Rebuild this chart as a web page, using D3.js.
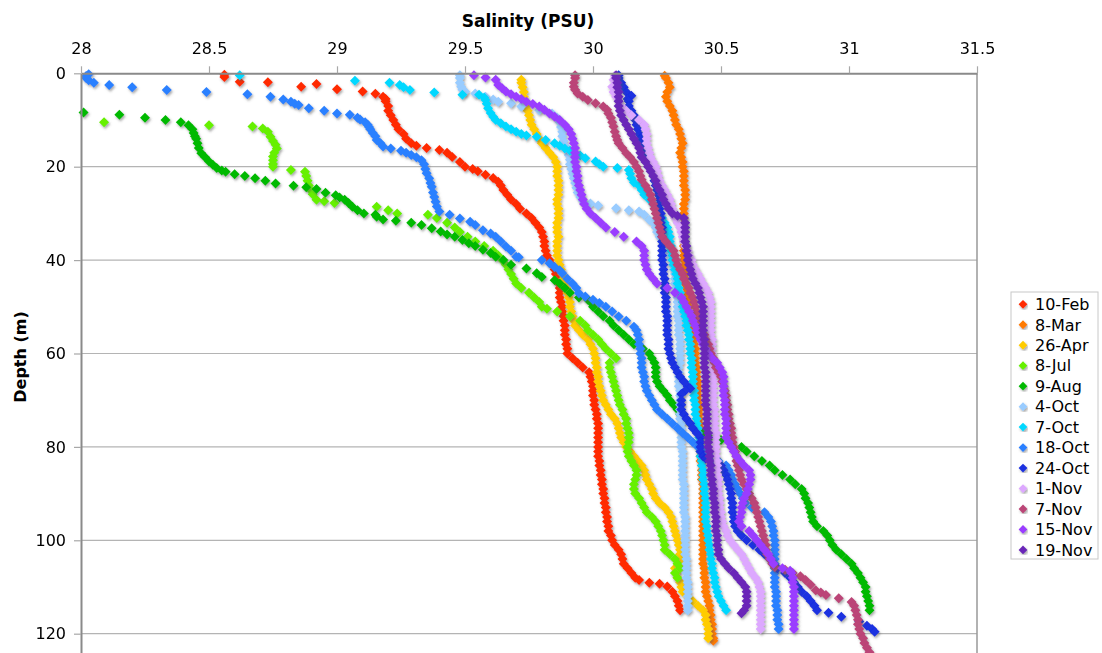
<!DOCTYPE html>
<html>
<head>
<meta charset="utf-8">
<script src="https://cdn.jsdelivr.net/npm/d3@7"></script>
<style>
  body { margin: 0; background: #fff; }
  svg { display: block; }
  text { font-family: "DejaVu Sans", Verdana, sans-serif; }
</style>
</head>
<body>
<svg id="chart" width="1102" height="653"></svg>
<script>
// CTD salinity profiles: each entry is [depth (m), salinity (PSU)]
const feb10 = [[0.3,28.56],[0.8,28.56],[1.8,28.62],[1.9,28.73],[2.3,28.92],[2.9,28.86],[3.4,29.00],[3.9,29.10],[4.4,29.15],[5,29.18],[5.5,29.19],[6,29.19],[7,29.20],[8,29.20],[9,29.21],[10,29.22],[11,29.23],[12,29.24],[13,29.26],[14,29.27],[15,29.29],[15.5,29.31],[16,29.35],[16.4,29.40],[17,29.43],[17.9,29.45],[19,29.48],[20,29.50],[20.5,29.53],[21,29.55],[21.7,29.58],[22.4,29.61],[23.2,29.63],[24,29.64],[25,29.65],[26,29.665],[27,29.68],[28,29.70],[29,29.715],[30,29.74],[31,29.76],[32,29.775],[33,29.79],[34,29.80],[35,29.805],[36,29.81],[37,29.81],[38,29.815],[39,29.82],[40,29.83],[41,29.84],[42,29.85],[43,29.855],[44,29.86],[45,29.865],[46,29.87],[47,29.87],[48,29.87],[49,29.875],[50,29.88],[51,29.88],[52,29.885],[53,29.885],[54,29.89],[55,29.89],[56,29.89],[57,29.895],[58,29.895],[59,29.90],[60,29.90],[61,29.92],[62,29.94],[63,29.96],[64,29.985],[65,29.99],[66,29.995],[67,30.00],[68,30.00],[69,30.00],[70,30.005],[71,30.005],[72,30.01],[73,30.015],[74,30.015],[75,30.02],[76,30.02],[77,30.02],[78,30.02],[79,30.02],[80,30.02],[81,30.02],[82,30.02],[83,30.025],[84,30.025],[85,30.03],[86,30.03],[87,30.035],[88,30.035],[89,30.04],[90,30.04],[91,30.045],[92,30.045],[93,30.05],[94,30.05],[95,30.055],[96,30.055],[97,30.06],[98,30.06],[99,30.07],[100,30.075],[101,30.085],[102,30.10],[103,30.11],[104,30.115],[105,30.12],[106,30.135],[107,30.15],[108,30.165],[108.5,30.18],[109.1,30.22],[109.3,30.26],[109.9,30.29],[111,30.31],[112,30.32],[113,30.33],[114,30.335],[115,30.34]];

const mar8 = [[0.5,30.28],[1,30.285],[2,30.295],[3,30.30],[4,30.29],[5,30.285],[6,30.29],[7,30.30],[8,30.31],[9,30.315],[10,30.32],[11,30.325],[12,30.335],[13,30.34],[14,30.345],[15,30.35],[16,30.345],[17,30.34],[18,30.345],[19,30.35],[20,30.35],[21,30.355],[22,30.355],[23,30.355],[24,30.355],[25,30.36],[26,30.36],[27,30.36],[28,30.355],[29,30.355],[30,30.355],[31,30.355],[32,30.355],[33,30.355],[34,30.355],[35,30.355],[36,30.355],[37,30.355],[38,30.355],[39,30.355],[40,30.355],[41,30.36],[42,30.36],[43,30.36],[44,30.36],[45,30.36],[46,30.365],[47,30.365],[48,30.37],[49,30.37],[50,30.375],[51,30.375],[52,30.38],[53,30.385],[54,30.385],[55,30.39],[56,30.39],[57,30.395],[58,30.395],[59,30.40],[60,30.40],[61,30.40],[62,30.40],[63,30.405],[64,30.405],[65,30.405],[66,30.41],[67,30.41],[68,30.41],[69,30.41],[70,30.41],[71,30.415],[72,30.415],[73,30.415],[74,30.415],[75,30.415],[76,30.42],[77,30.42],[78,30.42],[79,30.42],[80,30.42],[81,30.42],[82,30.42],[83,30.42],[84,30.425],[85,30.425],[86,30.425],[87,30.425],[88,30.43],[89,30.43],[90,30.43],[91,30.43],[92,30.43],[93,30.43],[94,30.43],[95,30.43],[96,30.43],[97,30.43],[98,30.43],[99,30.43],[100,30.43],[101,30.43],[102,30.43],[103,30.43],[104,30.43],[105,30.43],[106,30.435],[107,30.435],[108,30.435],[109,30.44],[110,30.44],[111,30.44],[112,30.445],[113,30.45],[114,30.455],[115,30.455],[116,30.46],[117,30.46],[118,30.465],[119,30.465],[120,30.465],[121,30.47],[121.5,30.47]];

const apr26 = [[1.4,29.72],[2,29.72],[3,29.725],[4,29.73],[5,29.73],[6,29.735],[7,29.74],[8,29.745],[9,29.75],[10,29.755],[11,29.76],[12,29.77],[13,29.78],[14,29.79],[15,29.80],[16,29.815],[17,29.83],[18,29.845],[19,29.855],[20,29.86],[21,29.86],[22,29.86],[23,29.865],[24,29.865],[25,29.865],[26,29.865],[27,29.86],[28,29.86],[29,29.865],[30,29.865],[31,29.865],[32,29.86],[33,29.86],[34,29.86],[35,29.865],[36,29.86],[37,29.86],[38,29.86],[39,29.86],[40,29.865],[41,29.87],[42,29.875],[43,29.88],[44,29.885],[45,29.89],[46,29.895],[47,29.90],[48,29.905],[49,29.91],[50,29.91],[51,29.915],[52,29.92],[53,29.925],[54,29.93],[55,29.945],[56,29.96],[57,29.98],[58,29.99],[59,30.00],[60,30.005],[61,30.01],[62,30.01],[63,30.015],[64,30.015],[65,30.02],[66,30.02],[67,30.025],[68,30.03],[69,30.035],[70,30.04],[71,30.05],[72,30.06],[73,30.07],[74,30.085],[75,30.095],[76,30.10],[77,30.105],[78,30.11],[79,30.12],[80,30.13],[81,30.145],[82,30.16],[83,30.175],[84,30.19],[85,30.20],[86,30.205],[87,30.21],[88,30.22],[89,30.23],[90,30.235],[91,30.245],[92,30.26],[93,30.28],[94,30.295],[95,30.305],[96,30.31],[97,30.315],[98,30.32],[99,30.325],[100,30.33],[101,30.335],[102,30.34],[103,30.34],[104,30.34],[105,30.34],[106,30.32],[107,30.325],[108,30.33],[109,30.34],[110,30.345],[111,30.35],[112,30.37],[113,30.39],[114,30.41],[115,30.43],[116,30.44],[117,30.44],[118,30.445],[119,30.45],[120,30.45],[121,30.45]];

const jul8 = [[10.5,28.09],[11.1,28.50],[11.4,28.67],[11.8,28.71],[12.5,28.73],[13.6,28.74],[14.5,28.75],[15.3,28.76],[16.1,28.765],[17,28.755],[17.8,28.75],[18.6,28.75],[19.4,28.75],[20,28.75],[20.7,28.82],[21.1,28.875],[22,28.88],[23,28.885],[24,28.89],[24.9,28.895],[25.9,28.905],[27.1,28.92],[27.4,28.95],[27.8,28.99],[28.6,29.155],[29.3,29.20],[30,29.235],[30.3,29.355],[31,29.39],[32,29.43],[33,29.46],[34,29.48],[35,29.51],[36,29.54],[37,29.575],[38,29.61],[39,29.63],[40,29.645],[41,29.66],[42,29.67],[43,29.68],[44,29.69],[45,29.70],[46,29.72],[47,29.75],[48,29.77],[49,29.79],[50,29.80],[50.4,29.82],[51,29.86],[52,29.91],[53,29.95],[54,29.97],[55,29.98],[56,30.00],[57,30.02],[58,30.035],[59,30.05],[60,30.07],[61,30.09],[62,30.065],[63,30.065],[64,30.07],[65,30.075],[66,30.08],[67,30.085],[68,30.09],[69,30.095],[70,30.10],[71,30.105],[72,30.115],[73,30.12],[74,30.13],[75,30.13],[76,30.135],[77,30.14],[78,30.14],[79,30.14],[80,30.135],[81,30.135],[82,30.14],[83,30.15],[84,30.16],[85,30.17],[86,30.17],[87,30.165],[88,30.16],[89,30.16],[90,30.165],[91,30.18],[92,30.19],[93,30.20],[94,30.21],[95,30.23],[96,30.245],[97,30.255],[98,30.265],[99,30.27],[100,30.275],[101,30.28],[102,30.28],[103,30.30],[104,30.32],[105,30.33],[106,30.34],[107,30.32],[108,30.33]];

const aug9 = [[8.4,28.01],[8.9,28.15],[9.5,28.25],[10,28.33],[10.5,28.39],[11.1,28.42],[12,28.435],[12.8,28.44],[13.5,28.445],[14,28.45],[15,28.455],[16,28.46],[17.1,28.47],[18,28.485],[18.9,28.50],[19.6,28.515],[20.3,28.53],[20.8,28.55],[21.1,28.565],[21.6,28.60],[22,28.64],[22.5,28.68],[23,28.72],[23.6,28.76],[24.1,28.83],[24.4,28.88],[24.8,28.92],[25.6,28.955],[26.1,28.995],[26.6,29.01],[27.1,29.03],[27.8,29.045],[28.6,29.06],[29.3,29.08],[30,29.105],[30.3,29.15],[30.7,29.155],[31.3,29.18],[31.6,29.23],[32,29.29],[32.5,29.33],[33.2,29.37],[33.9,29.405],[34.5,29.43],[35,29.46],[35.7,29.49],[36.4,29.515],[37,29.54],[37.8,29.57],[38.5,29.60],[39.3,29.62],[40,29.65],[41,29.68],[41.8,29.74],[42.8,29.78],[43.6,29.80],[44.3,29.85],[45,29.87],[46,29.89],[47,29.91],[48,29.945],[48.5,29.98],[49,29.99],[50,30.00],[51,30.02],[52,30.04],[53,30.065],[54,30.08],[55,30.10],[56,30.12],[57,30.14],[58,30.16],[59,30.195],[60,30.22],[61,30.23],[62,30.24],[63,30.245],[64,30.245],[65,30.245],[66,30.25],[67,30.26],[68,30.275],[69,30.29],[70,30.30],[71,30.315],[72,30.33],[73,30.34],[74,30.36],[75,30.38],[76,30.40],[77,30.43],[78,30.455],[78.5,30.50],[79,30.54],[80,30.58],[81,30.60],[82,30.63],[83,30.66],[84,30.69],[85,30.71],[86,30.74],[87,30.77],[88,30.79],[89,30.815],[90,30.825],[91,30.83],[92,30.84],[93,30.845],[94,30.85],[95,30.855],[96,30.86],[97,30.875],[98,30.90],[99,30.915],[100,30.925],[101,30.935],[102,30.95],[103,30.97],[104,30.99],[105,31.01],[106,31.02],[107,31.035],[108,31.045],[109,31.055],[110,31.065],[111,31.065],[112,31.07],[113,31.075],[114,31.08],[115,31.08]];

const oct4 = [[0.4,29.48],[1,29.48],[2,29.48],[2.9,29.485],[3.5,29.49],[3.9,29.50],[4.3,29.54],[5,29.58],[5.6,29.61],[6.1,29.63],[6.4,29.68],[7.1,29.72],[7.9,29.79],[8.6,29.84],[9.5,29.86],[10.5,29.87],[11.5,29.875],[12.5,29.88],[13.5,29.88],[14.5,29.885],[15.5,29.89],[16.5,29.90],[17.5,29.905],[18.5,29.91],[19.5,29.91],[20.5,29.915],[21.5,29.92],[22.5,29.925],[23.5,29.93],[24.5,29.935],[25.5,29.94],[26.5,29.95],[27.3,29.96],[27.9,29.99],[28.3,30.02],[28.9,30.09],[29.3,30.14],[29.6,30.18],[30.3,30.20],[31.4,30.22],[32,30.235],[33,30.245],[34,30.25],[35,30.26],[36,30.27],[37,30.28],[38,30.29],[39,30.30],[40,30.305],[41,30.31],[42,30.315],[43,30.32],[44,30.32],[45,30.32],[46,30.325],[47,30.325],[48,30.33],[49,30.33],[50,30.33],[51,30.33],[52,30.33],[53,30.335],[54,30.335],[55,30.335],[56,30.335],[57,30.34],[58,30.34],[59,30.34],[60,30.34],[61,30.34],[62,30.34],[63,30.335],[64,30.335],[65,30.335],[66,30.335],[67,30.335],[68,30.34],[69,30.34],[70,30.34],[71,30.34],[72,30.34],[73,30.34],[74,30.34],[75,30.345],[76,30.345],[77,30.345],[78,30.345],[79,30.345],[80,30.345],[81,30.35],[82,30.35],[83,30.35],[84,30.35],[85,30.35],[86,30.35],[87,30.35],[88,30.355],[89,30.355],[90,30.355],[91,30.355],[92,30.355],[93,30.355],[94,30.355],[95,30.36],[96,30.36],[97,30.36],[98,30.36],[99,30.36],[100,30.36],[101,30.36],[102,30.36],[103,30.36],[104,30.365],[105,30.365],[106,30.365],[107,30.365],[108,30.365],[109,30.37],[110,30.37],[111,30.37],[112,30.37],[113,30.37],[114,30.37],[115,30.37]];

const oct7 = [[0.4,28.62],[1.6,29.07],[2,29.205],[2.5,29.245],[3,29.26],[3.6,29.285],[4.1,29.38],[4.6,29.49],[4.6,29.555],[5.2,29.575],[5.7,29.58],[6.5,29.585],[7.5,29.59],[8.5,29.60],[9.3,29.61],[10,29.62],[10.7,29.64],[11.4,29.66],[12,29.68],[12.5,29.70],[13,29.72],[13.3,29.74],[13.6,29.78],[14.3,29.815],[15,29.85],[15.5,29.87],[16.1,29.89],[16.6,29.91],[17.1,29.93],[17.6,29.95],[18.2,29.97],[18.9,30.01],[19.5,30.025],[20,30.04],[20.3,30.095],[20.7,30.14],[21.5,30.145],[22.5,30.15],[23.4,30.16],[24.1,30.18],[25,30.19],[26,30.20],[27,30.22],[28,30.235],[29,30.25],[30,30.26],[31,30.27],[32,30.28],[33,30.29],[34,30.295],[35,30.30],[36,30.30],[37,30.305],[38,30.305],[39,30.31],[40,30.31],[41,30.315],[42,30.32],[43,30.325],[44,30.33],[45,30.33],[46,30.335],[47,30.34],[48,30.345],[49,30.35],[50,30.35],[51,30.355],[52,30.36],[53,30.365],[54,30.365],[55,30.37],[56,30.375],[57,30.375],[58,30.38],[59,30.38],[60,30.38],[61,30.385],[62,30.385],[63,30.385],[64,30.39],[65,30.39],[66,30.39],[67,30.39],[68,30.395],[69,30.395],[70,30.395],[71,30.40],[72,30.40],[73,30.40],[74,30.405],[75,30.405],[76,30.41],[77,30.41],[78,30.415],[79,30.415],[80,30.42],[81,30.42],[82,30.42],[83,30.425],[84,30.425],[85,30.43],[86,30.43],[87,30.43],[88,30.435],[89,30.435],[90,30.435],[91,30.44],[92,30.44],[93,30.44],[94,30.44],[95,30.44],[96,30.44],[97,30.445],[98,30.445],[99,30.45],[100,30.45],[101,30.455],[102,30.455],[103,30.46],[104,30.46],[105,30.465],[106,30.465],[107,30.47],[108,30.475],[109,30.475],[110,30.48],[111,30.485],[112,30.49],[113,30.50],[114,30.51],[115,30.52]];

const oct18 = [[0.2,28.03],[0.6,28.02],[1,28.02],[1.5,28.03],[2,28.05],[2.5,28.11],[3,28.20],[3.6,28.335],[4,28.49],[4.5,28.65],[5,28.74],[5.6,28.79],[6.1,28.82],[6.5,28.835],[6.8,28.85],[7.5,28.89],[8,28.95],[8.6,29.00],[8.9,29.05],[9.5,29.08],[9.9,29.09],[10.5,29.11],[11,29.12],[11.5,29.125],[12,29.13],[12.8,29.14],[13.5,29.15],[14.3,29.155],[15,29.17],[15.7,29.18],[16.1,29.21],[16.6,29.25],[17,29.27],[17.5,29.29],[18,29.31],[18.6,29.33],[19.5,29.34],[20.5,29.345],[21.4,29.35],[22.5,29.36],[23.5,29.365],[24.3,29.37],[25.5,29.375],[26.5,29.38],[27.5,29.385],[28.5,29.39],[29.6,29.40],[30.3,29.44],[31.1,29.48],[31.8,29.52],[32.5,29.54],[33.6,29.57],[34.3,29.60],[35,29.62],[36,29.64],[37.1,29.66],[38,29.68],[39.3,29.70],[39.4,29.71],[40,29.80],[40.7,29.83],[41.5,29.85],[42.2,29.87],[42.8,29.88],[44,29.90],[45,29.92],[46,29.935],[47.1,29.945],[47.8,29.97],[48.5,30.00],[49.2,30.025],[50,30.05],[51,30.075],[52.1,30.10],[53,30.13],[54.3,30.16],[55,30.17],[56,30.175],[57,30.18],[58,30.18],[59,30.185],[60,30.185],[61,30.19],[62,30.19],[63,30.19],[64,30.195],[65,30.20],[66,30.20],[67,30.205],[68,30.21],[69,30.22],[70,30.23],[71,30.24],[72,30.25],[73,30.27],[74,30.29],[75,30.31],[76,30.33],[77,30.35],[78,30.37],[79,30.39],[80,30.41],[81,30.44],[82,30.47],[83,30.49],[84,30.52],[85,30.53],[86,30.54],[87,30.545],[88,30.555],[89,30.565],[90,30.575],[91,30.585],[92,30.595],[93,30.62],[94,30.67],[95,30.685],[96,30.695],[97,30.70],[98,30.705],[99,30.705],[100,30.71],[101,30.71],[102,30.71],[103,30.71],[104,30.71],[105,30.71],[106,30.71],[107,30.71],[108,30.71],[109,30.71],[110,30.71],[111,30.715],[112,30.715],[113,30.715],[114,30.715],[115,30.72],[116,30.72],[117,30.72],[118,30.725],[119,30.725]];

const oct24 = [[0.4,30.10],[1,30.10],[2,30.11],[3,30.12],[4,30.13],[4.8,30.15],[5.5,30.135],[6,30.14],[7,30.14],[8,30.15],[9,30.16],[10,30.165],[11,30.17],[12,30.175],[13,30.18],[14,30.185],[15,30.19],[16,30.20],[17,30.205],[18,30.21],[19,30.22],[20,30.23],[21,30.235],[22,30.24],[23,30.24],[24,30.245],[25,30.25],[26,30.255],[27,30.26],[28,30.26],[29,30.26],[30,30.265],[31,30.265],[32,30.265],[33,30.27],[34,30.27],[35,30.27],[36,30.27],[37,30.27],[38,30.27],[39,30.27],[40,30.27],[41,30.275],[42,30.275],[43,30.275],[44,30.28],[45,30.28],[46,30.28],[47,30.28],[48,30.285],[49,30.285],[50,30.285],[51,30.285],[52,30.29],[53,30.29],[54,30.29],[55,30.29],[56,30.29],[57,30.295],[58,30.295],[59,30.295],[60,30.30],[61,30.305],[62,30.31],[63,30.32],[64,30.33],[65,30.34],[66,30.355],[67,30.37],[67.5,30.38],[68,30.36],[68.7,30.345],[70,30.345],[71,30.345],[72,30.345],[73,30.355],[74,30.365],[75,30.38],[76,30.39],[77,30.405],[78,30.42],[79,30.42],[80,30.42],[81,30.42],[82,30.43],[82.5,30.44],[83,30.47],[84,30.50],[85,30.51],[86,30.52],[87,30.525],[88,30.53],[89,30.535],[90,30.54],[91,30.54],[92,30.545],[93,30.545],[94,30.545],[95,30.55],[96,30.55],[97,30.555],[98,30.565],[99,30.58],[100,30.60],[101,30.625],[102,30.65],[103,30.67],[104,30.69],[105,30.705],[106,30.72],[107,30.75],[108,30.77],[109,30.785],[110,30.80],[111,30.815],[112,30.835],[113,30.85],[114,30.865],[115,30.875],[115.5,30.92],[116.4,30.97],[117.4,31.04],[118.3,31.07],[119,31.09],[119.6,31.10]];

const nov1 = [[0.5,30.085],[1.4,30.08],[2.9,30.075],[4,30.08],[5,30.09],[6,30.10],[7,30.11],[8,30.13],[9,30.15],[10,30.18],[11,30.20],[12,30.205],[13,30.21],[14,30.21],[15,30.21],[16,30.215],[17,30.22],[18,30.225],[19,30.235],[20,30.245],[21,30.25],[22,30.255],[23,30.26],[24,30.27],[25,30.28],[26,30.29],[27,30.30],[28,30.305],[29,30.31],[30,30.315],[31,30.32],[32,30.33],[33,30.34],[34,30.345],[35,30.35],[36,30.355],[37,30.36],[38,30.37],[39,30.375],[40,30.385],[41,30.39],[42,30.40],[43,30.41],[44,30.42],[45,30.43],[46,30.44],[47,30.45],[48,30.455],[49,30.46],[50,30.46],[51,30.46],[52,30.46],[53,30.46],[54,30.46],[55,30.46],[56,30.46],[57,30.465],[58,30.465],[59,30.465],[60,30.465],[61,30.465],[62,30.465],[63,30.465],[64,30.47],[65,30.47],[66,30.47],[67,30.47],[68,30.47],[69,30.47],[70,30.47],[71,30.47],[72,30.475],[73,30.475],[74,30.475],[75,30.475],[76,30.475],[77,30.48],[78,30.48],[79,30.48],[80,30.48],[81,30.48],[82,30.48],[83,30.485],[84,30.485],[85,30.485],[86,30.485],[87,30.49],[88,30.49],[89,30.49],[90,30.49],[91,30.495],[92,30.495],[93,30.495],[94,30.50],[95,30.50],[96,30.505],[97,30.51],[98,30.52],[99,30.525],[100,30.535],[101,30.55],[102,30.565],[103,30.58],[104,30.59],[105,30.60],[106,30.61],[107,30.62],[108,30.635],[109,30.645],[110,30.65],[111,30.655],[112,30.655],[113,30.655],[114,30.655],[115,30.655],[116,30.655],[117,30.655],[118,30.655],[119,30.655]];

const nov7 = [[0.4,29.93],[1,29.93],[2,29.925],[2.9,29.925],[3.5,29.93],[4.3,29.94],[5,29.96],[5.7,29.98],[6.4,30.01],[7.1,30.04],[7.8,30.055],[8.6,30.06],[9.5,30.07],[10.5,30.075],[11.4,30.08],[12.5,30.085],[13.5,30.09],[14.3,30.095],[15,30.10],[16,30.115],[17.1,30.13],[18,30.145],[19,30.16],[20,30.17],[21,30.18],[22,30.185],[22.8,30.19],[24,30.205],[25,30.215],[26,30.225],[27,30.23],[28,30.235],[29,30.24],[30,30.245],[31,30.25],[32,30.255],[33,30.26],[34,30.265],[35,30.27],[36,30.285],[37,30.30],[38,30.315],[39,30.32],[40,30.325],[41,30.33],[42,30.34],[43,30.35],[44,30.355],[45,30.365],[46,30.375],[47,30.38],[48,30.39],[49,30.395],[50,30.40],[51,30.405],[52,30.41],[53,30.415],[54,30.42],[55,30.425],[56,30.435],[57,30.44],[58,30.45],[59,30.455],[60,30.46],[61,30.47],[62,30.475],[63,30.48],[64,30.49],[65,30.50],[66,30.505],[67,30.51],[68,30.515],[69,30.52],[70,30.52],[71,30.525],[72,30.525],[73,30.53],[74,30.53],[75,30.535],[76,30.54],[77,30.54],[78,30.545],[79,30.545],[80,30.55],[81,30.555],[82,30.56],[83,30.56],[84,30.565],[85,30.57],[86,30.575],[87,30.58],[88,30.59],[89,30.60],[90,30.61],[91,30.62],[92,30.63],[93,30.635],[94,30.64],[95,30.645],[96,30.65],[97,30.655],[98,30.66],[99,30.665],[100,30.67],[101,30.675],[102,30.675],[103,30.68],[104,30.69],[105,30.70],[105.7,30.71],[106.3,30.75],[107,30.78],[107.7,30.81],[108.5,30.83],[109.5,30.85],[110.7,30.87],[111.2,30.89],[111.7,30.91],[112.4,30.96],[113.2,31.01],[114,31.02],[115,31.025],[116,31.03],[117,31.035],[118,31.035],[119,31.04],[120,31.045],[121,31.055],[122,31.06],[123,31.07],[124,31.08],[125,31.09]];

const nov15 = [[0.4,29.535],[0.9,29.58],[1.4,29.62],[2.5,29.63],[3.2,29.645],[3.9,29.66],[4.5,29.68],[5,29.70],[5.5,29.72],[6.1,29.74],[6.6,29.765],[7.1,29.79],[7.8,29.81],[8.6,29.83],[9.3,29.85],[10,29.87],[11,29.89],[12,29.905],[13,29.915],[14,29.92],[15,29.925],[16,29.93],[17,29.93],[18,29.93],[19,29.93],[20,29.935],[21,29.935],[22,29.94],[23,29.94],[24,29.945],[25,29.95],[26,29.955],[27,29.96],[28,29.965],[29,29.975],[30,29.99],[31,30.01],[32,30.03],[33,30.05],[34,30.085],[35,30.12],[36,30.17],[37,30.19],[38,30.20],[39,30.20],[40,30.20],[41,30.205],[42,30.21],[43,30.22],[44,30.235],[45,30.25],[46,30.29],[47,30.32],[48,30.345],[49,30.355],[50,30.365],[51,30.375],[52,30.385],[53,30.39],[54,30.40],[55,30.405],[56,30.41],[57,30.42],[58,30.43],[59,30.44],[60,30.45],[61,30.465],[62,30.485],[63,30.495],[64,30.505],[65,30.51],[66,30.51],[67,30.51],[68,30.51],[69,30.51],[70,30.515],[71,30.515],[72,30.515],[73,30.515],[74,30.52],[75,30.52],[76,30.52],[77,30.52],[78,30.52],[79,30.53],[80,30.54],[81,30.55],[82,30.56],[83,30.575],[84,30.59],[85,30.61],[86,30.615],[87,30.615],[88,30.61],[89,30.605],[90,30.60],[91,30.59],[92,30.585],[93,30.58],[94,30.58],[95,30.575],[96,30.57],[97,30.58],[98,30.61],[99,30.625],[100,30.64],[101,30.655],[102,30.67],[103,30.685],[104,30.695],[105,30.705],[106,30.74],[106.5,30.77],[107,30.775],[108,30.78],[109,30.78],[110,30.785],[111,30.785],[112,30.785],[113,30.785],[114,30.785],[115,30.785],[116,30.785],[117,30.785],[118,30.785],[119,30.785]];

const nov19 = [[0.4,30.09],[1,30.09],[2,30.095],[3,30.095],[4,30.10],[5,30.10],[6,30.10],[7,30.10],[8,30.105],[9,30.11],[10,30.12],[11,30.13],[12,30.14],[13,30.15],[14,30.16],[15,30.17],[16,30.18],[17,30.185],[18,30.19],[19,30.205],[20,30.215],[21,30.225],[22,30.235],[23,30.245],[24,30.25],[25,30.26],[26,30.27],[27,30.275],[28,30.285],[29,30.295],[30,30.31],[30.5,30.33],[31,30.355],[32,30.36],[33,30.36],[34,30.36],[35,30.36],[36,30.36],[37,30.365],[38,30.365],[39,30.37],[40,30.37],[41,30.375],[42,30.38],[43,30.385],[44,30.39],[45,30.40],[46,30.41],[47,30.415],[48,30.42],[49,30.425],[50,30.43],[51,30.43],[52,30.43],[53,30.43],[54,30.43],[55,30.43],[56,30.43],[57,30.435],[58,30.435],[59,30.435],[60,30.435],[61,30.435],[62,30.435],[63,30.435],[64,30.44],[65,30.44],[66,30.44],[67,30.44],[68,30.44],[69,30.44],[70,30.44],[71,30.44],[72,30.445],[73,30.445],[74,30.445],[75,30.445],[76,30.445],[77,30.45],[78,30.45],[79,30.45],[80,30.45],[81,30.455],[82,30.455],[83,30.455],[84,30.46],[85,30.46],[86,30.46],[87,30.465],[88,30.465],[89,30.47],[90,30.47],[91,30.47],[92,30.475],[93,30.475],[94,30.475],[95,30.48],[96,30.48],[97,30.48],[98,30.48],[99,30.485],[100,30.485],[101,30.485],[102,30.49],[103,30.49],[104,30.50],[105,30.515],[106,30.53],[107,30.55],[108,30.565],[109,30.58],[110,30.595],[111,30.60],[112,30.60],[113,30.60],[114,30.60],[115,30.59],[115.6,30.58]];

const seriesData = [feb10, mar8, apr26, jul8, aug9, oct4, oct7, oct18, oct24, nov1, nov7, nov15, nov19];
const seriesNames = ["10-Feb", "8-Mar", "26-Apr", "8-Jul", "9-Aug", "4-Oct", "7-Oct", "18-Oct", "24-Oct", "1-Nov", "7-Nov", "15-Nov", "19-Nov"];
const palette = ["#ff2a00", "#ff7a00", "#ffcc00", "#66f000", "#00b900", "#99ccff", "#00d8ff", "#2a80ff", "#1a30e0", "#dda8ff", "#bb4477", "#9a3cff", "#6a28b8"];

const salinityTicks = [28, 28.5, 29, 29.5, 30, 30.5, 31, 31.5];
const depthTicks = [0, 20, 40, 60, 80, 100, 120];

const svg = d3.select("#chart");
const x = d3.scaleLinear().domain([28, 31.5]).range([81, 977]);
const y = d3.scaleLinear().domain([0, 124.2]).range([73.3, 653.3]);

// soft grey drop shadow under the markers
const defs = svg.append("defs");
const f = defs.append("filter").attr("id", "shadow")
  .attr("x", "-5%").attr("y", "-5%").attr("width", "110%").attr("height", "110%");
f.append("feDropShadow").attr("dx", 1.2).attr("dy", 1.8)
  .attr("stdDeviation", 0.8).attr("flood-color", "#555").attr("flood-opacity", 0.5);

svg.append("rect").attr("width", 1102).attr("height", 653).attr("fill", "#fff");

// horizontal gridlines
svg.append("g").selectAll("line")
  .data(depthTicks.filter(d => d > 0))
  .join("line")
  .attr("x1", x(28)).attr("x2", x(31.5))
  .attr("y1", d => y(d)).attr("y2", d => y(d))
  .attr("stroke", "#b4b4b4").attr("stroke-width", 1.2);

// right frame edge
svg.append("line")
  .attr("x1", x(31.5)).attr("x2", x(31.5))
  .attr("y1", y(0)).attr("y2", y(124.2))
  .attr("stroke", "#999").attr("stroke-width", 1.5);

// profiles as diamond markers
const diamond = "M0,-5L5,0L0,5L-5,0Z";
seriesData.forEach((pts, i) => {
  svg.append("g")
    .attr("filter", "url(#shadow)")
    .selectAll("path")
    .data(pts)
    .join("path")
    .attr("d", diamond)
    .attr("transform", d => `translate(${x(d[1])},${y(d[0])})`)
    .attr("fill", palette[i]);
});

// axes
const xAxis = svg.append("g")
  .attr("transform", `translate(0,${y(0)})`)
  .call(d3.axisTop(x).tickValues(salinityTicks).tickFormat(d => String(d))
    .tickSize(7).tickPadding(12).tickSizeOuter(0));
const yAxis = svg.append("g")
  .attr("transform", `translate(${x(28)},0)`)
  .call(d3.axisLeft(y).tickValues(depthTicks).tickFormat(d => String(d))
    .tickSize(7).tickPadding(8).tickSizeOuter(0));

[xAxis, yAxis].forEach(a => {
  a.attr("font-family", null).attr("font-size", null);
  a.select(".domain").attr("stroke", "#8a8a8a").attr("stroke-width", 2);
  a.selectAll(".tick line").attr("stroke", "#a8a8a8").attr("stroke-width", 1.2);
  a.selectAll(".tick text").attr("fill", "#000")
    .style("font-family", '"DejaVu Sans", Verdana, sans-serif').style("font-size", "16px");
});

// axis titles
svg.append("text")
  .attr("x", 528).attr("y", 27)
  .attr("text-anchor", "middle")
  .style("font-size", "17px").style("font-weight", "bold")
  .text("Salinity (PSU)");
svg.append("text")
  .attr("transform", "translate(26,357) rotate(-90)")
  .attr("text-anchor", "middle")
  .style("font-size", "16px").style("font-weight", "bold")
  .text("Depth (m)");

// legend
const lg = svg.append("g").attr("transform", "translate(1011,292)");
lg.append("rect").attr("width", 87).attr("height", 267)
  .attr("fill", "#fff").attr("stroke", "#c8c8c8").attr("stroke-width", 1);
const item = lg.selectAll("g.item").data(seriesNames).join("g")
  .attr("class", "item")
  .attr("transform", (d, i) => `translate(12,${12.3 + i * 20.47})`);
item.append("path").attr("d", "M0,-4.4L4.4,0L0,4.4L-4.4,0Z")
  .attr("fill", (d, i) => palette[i]).attr("filter", "url(#shadow)");
item.append("text").attr("x", 12).attr("dy", "0.36em")
  .style("font-size", "16px").attr("fill", "#000")
  .text(d => d);
</script>
</body>
</html>
